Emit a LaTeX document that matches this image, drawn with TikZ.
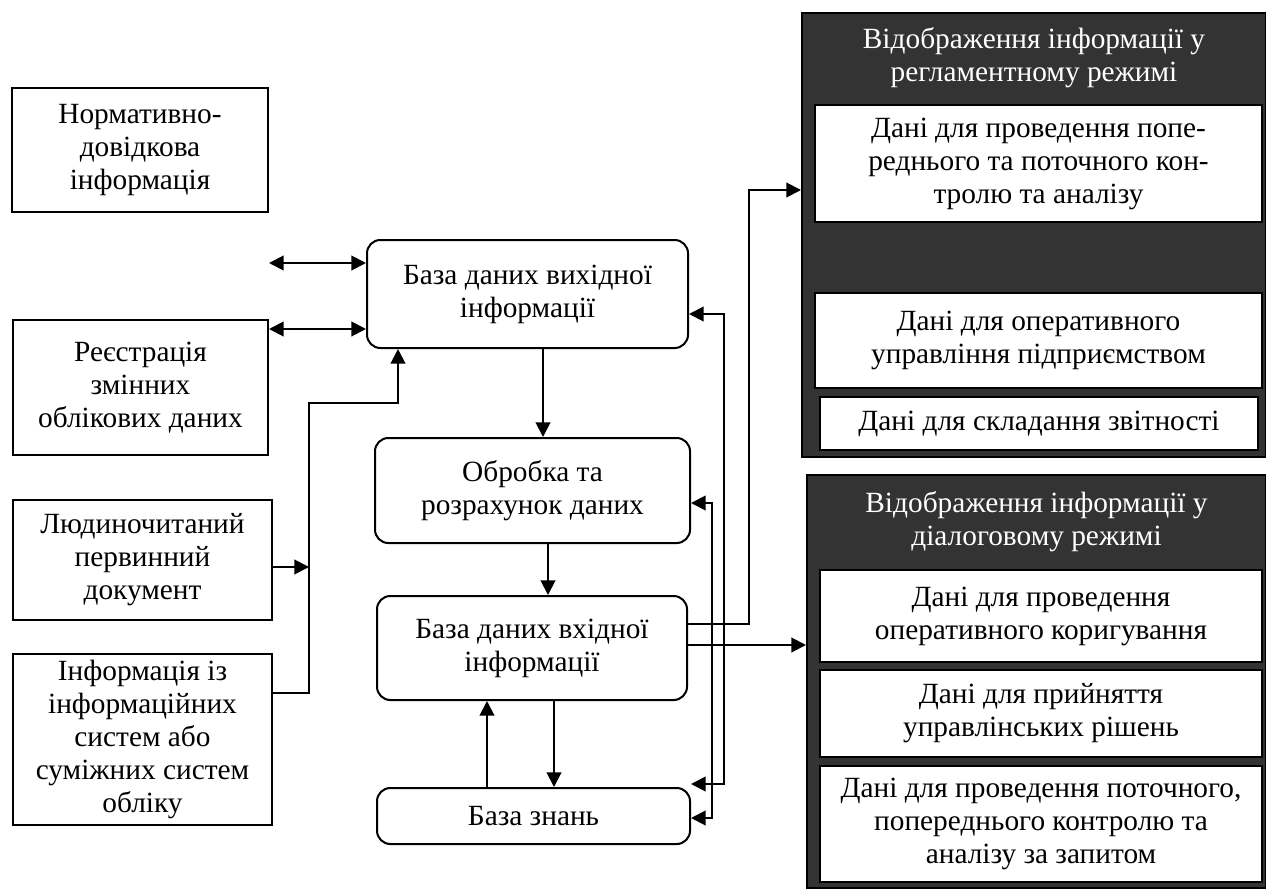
\documentclass[tikz,border=0pt]{standalone}
\usepackage{fontspec}
\setmainfont{Liberation Serif}
\usetikzlibrary{arrows.meta}
\definecolor{panelgray}{HTML}{333333}
\begin{document}
\begin{tikzpicture}[x=0.75pt,y=-0.75pt,
  every node/.style={font=\fontsize{22}{24.75}\selectfont, align=center, inner sep=0pt},
  sqbox/.style={draw, line width=1.5pt, fill=white},
  rndbox/.style={draw, line width=1.5pt, fill=white, rounded corners=10pt},
  panelbox/.style={draw, line width=1.5pt, fill=panelgray},
  lnk/.style={line width=1.5pt},
  tri/.tip={Triangle[length=11pt,width=11pt]}
]
\useasboundingbox (0,0) rectangle (1266,888);
\fill[white] (0,0) rectangle (1266,888);

% sources on the left
\node[sqbox, minimum width=192pt, minimum height=93pt] (n1) at (140,150)
  {Нормативно-\\довідкова\\інформація};
\node[sqbox, minimum width=191.25pt, minimum height=101.25pt] (n2) at (140.5,387.5)
  {Реєстрація\\змінних\\облікових даних};
\node[sqbox, minimum width=194.25pt, minimum height=90pt] (n3) at (142.5,560)
  {Людиночитаний\\первинний\\документ};
\node[sqbox, minimum width=194.25pt, minimum height=128.25pt] (n4) at (142.5,739.5)
  {Інформація із\\інформаційних\\систем або\\суміжних систем\\обліку};

% processing chain in the middle
\node[rndbox, minimum width=240.75pt, minimum height=81pt] (c1) at (527.5,294)
  {База даних вихідної\\інформації};
\node[rndbox, minimum width=236.25pt, minimum height=78.75pt] (c2) at (532.5,490.5)
  {Обробка та\\розрахунок даних};
\node[rndbox, minimum width=232.5pt, minimum height=78pt] (c3) at (532,648)
  {База даних вхідної\\інформації};
\node[rndbox, minimum width=234.75pt, minimum height=42pt] (c4) at (533.5,816)
  {База знань};

% output panels on the right
\node[panelbox, minimum width=348pt, minimum height=333pt] (p1) at (1034,235) {};
\node[text=white] (h1) at (1034,58) {Відображення інформації у\\регламентному режимі};
\node[sqbox, minimum width=335.25pt, minimum height=87.75pt] (w1) at (1038.5,163.5)
  {Дані для проведення попе-\\реднього та поточного кон-\\тролю та аналізу};
\node[sqbox, minimum width=335.25pt, minimum height=71.25pt] (w2) at (1038.5,340.5)
  {Дані для оперативного\\управління підприємством};
\node[sqbox, minimum width=328.5pt, minimum height=39.75pt] (w3) at (1039,423.5)
  {Дані для складання звітності};

\node[panelbox, minimum width=344.25pt, minimum height=309.75pt] (p2) at (1036.5,681.5) {};
\node[text=white] (h2) at (1036.5,522) {Відображення інформації у\\діалоговому режимі};
\node[sqbox, minimum width=331.5pt, minimum height=69pt] (v1) at (1041,616)
  {Дані для проведення\\оперативного коригування};
\node[sqbox, minimum width=331.5pt, minimum height=65.25pt] (v2) at (1041,713.5)
  {Дані для прийняття\\управлінських рішень};
\node[sqbox, minimum width=331.5pt, minimum height=87pt] (v3) at (1041,824)
  {Дані для проведення поточного,\\попереднього контролю та\\аналізу за запитом};

% helper levels
\coordinate (free) at (269,263);
\coordinate (y329) at (0,329);
\coordinate (y567) at (0,567);
\coordinate (j1) at (309,693);
\coordinate (j2) at (309,403);
\coordinate (j3) at (398,403);
\coordinate (x543) at (543,0);
\coordinate (x548) at (548,0);
\coordinate (x487) at (487,0);
\coordinate (x554) at (554,0);
\coordinate (y314) at (0,314);
\coordinate (y784) at (0,784);
\coordinate (y503) at (0,503);
\coordinate (y818) at (0,818);
\coordinate (y624) at (0,624);
\coordinate (y645) at (0,645);
\coordinate (y190) at (0,190);

% left-hand connectors
\draw[lnk, tri-tri] (free) -- (c1.west |- free);
\draw[lnk, tri-tri] (n2.east |- y329) -- (c1.west |- y329);
\draw[lnk, -tri] (n4.east |- j1) -- (j1) -- (j2) -- (j3) -- (c1.south -| j3);
\draw[lnk, -tri] (n3.east |- y567) -- (j1 |- y567);

% vertical flow
\draw[lnk, -tri] (c1.south -| x543) -- (c2.north -| x543);
\draw[lnk, -tri] (c2.south -| x548) -- (c3.north -| x548);
\draw[lnk, -tri] (c4.north -| x487) -- (c3.south -| x487);
\draw[lnk, -tri] (c3.south -| x554) -- (c4.north -| x554);

% feedback lines to the knowledge base
\draw[lnk, tri-tri] (c1.east |- y314) -- (724,314) -- (724,784) -- (c4.east |- y784);
\draw[lnk, tri-tri] (c2.east |- y503) -- (712,503) -- (712,818) -- (c4.east |- y818);

% outputs
\draw[lnk, -tri] (c3.east |- y624) -- (749,624) -- (749,190) -- (p1.west |- y190);
\draw[lnk, -tri] (c3.east |- y645) -- (p2.west |- y645);
\end{tikzpicture}
\end{document}
